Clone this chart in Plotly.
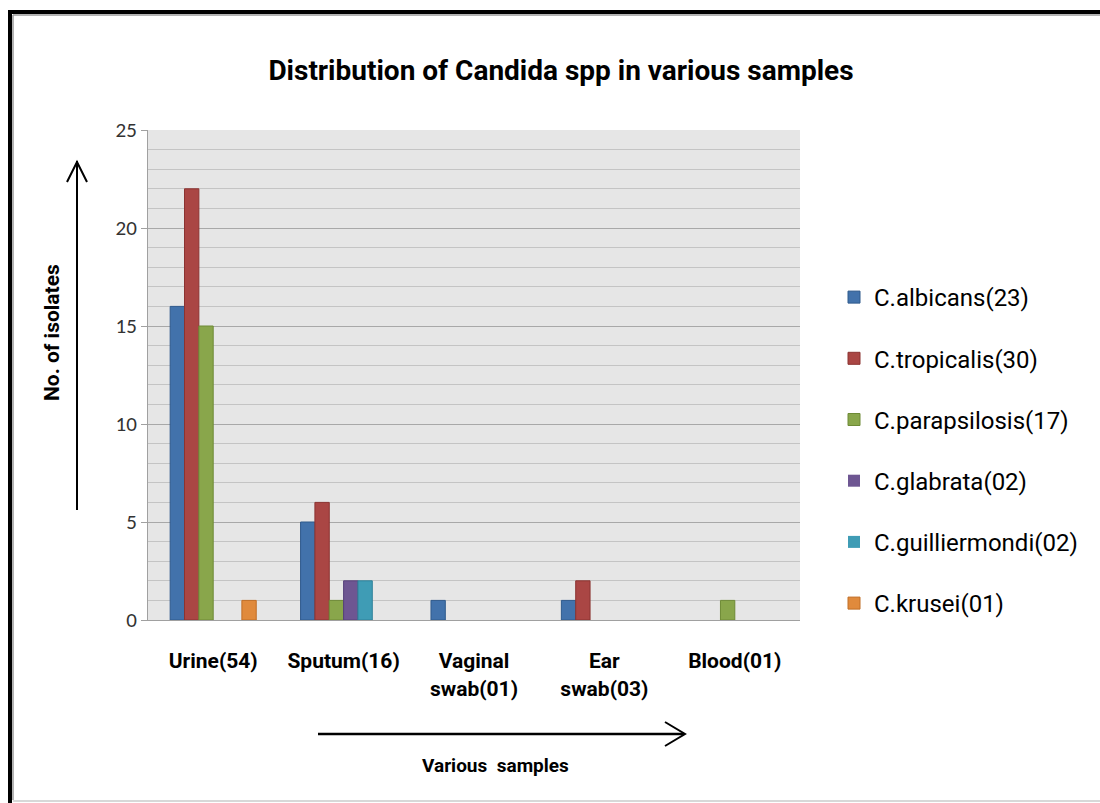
import plotly.graph_objects as go

categories = ["Urine(54)", "Sputum(16)", "Vaginal<br>swab(01)", "Ear<br>swab(03)", "Blood(01)"]
series_names = ["C.albicans(23)", "C.tropicalis(30)", "C.parapsilosis(17)",
                "C.glabrata(02)", "C.guilliermondi(02)", "C.krusei(01)"]
albicans = [16, 5, 1, 1, 0]
tropicalis = [22, 6, 0, 2, 0]
parapsilosis = [15, 1, 0, 0, 1]
glabrata = [0, 2, 0, 0, 0]
guilliermondi = [0, 2, 0, 0, 0]
krusei = [1, 0, 0, 0, 0]
series_values = [albicans, tropicalis, parapsilosis, glabrata, guilliermondi, krusei]
y_ticks = [0, 5, 10, 15, 20, 25]

fills = ["#4272AB", "#AA4644", "#89A64B", "#6E5692", "#3F9CB5", "#E08A3C"]
edges = ["#2F5A8C", "#8B3331", "#6E8A36", "#56407A", "#2E8199", "#C06E26"]

COND = "Roboto, Liberation Sans, sans-serif"

fig = go.Figure()
for name, vals, fc, ec in zip(series_names, series_values, fills, edges):
    fig.add_trace(go.Bar(x=categories, y=vals, name=name, legendgroup=name,
                         marker=dict(color=fc,
                                     line=dict(color=ec, width=[1 if v > 0 else 0 for v in vals]))))

# body margin removed by post_script: figure coords = page coords
W, H = 1100, 803
L, T = 148, 130
R = W - 800
B = H - 620
pw, ph = W - L - R, H - T - B

def px(x):
    return (x - L) / pw

def py(y):
    return (H - B - y) / ph

shapes = [
    # outer frame
    dict(type="line", xref="paper", yref="paper", x0=px(10), x1=px(10), y0=py(10), y1=py(803),
         line=dict(color="black", width=4)),
    dict(type="line", xref="paper", yref="paper", x0=px(8), x1=px(1100), y0=py(12), y1=py(12),
         line=dict(color="black", width=4)),
    dict(type="line", xref="paper", yref="paper", x0=px(13), x1=px(13), y0=py(15), y1=py(800),
         line=dict(color="#9A9A9A", width=1.5)),
    dict(type="line", xref="paper", yref="paper", x0=px(13), x1=px(1100), y0=py(15), y1=py(15),
         line=dict(color="#9A9A9A", width=1.5)),
    dict(type="line", xref="paper", yref="paper", x0=px(13), x1=px(1100), y0=py(801), y1=py(801),
         line=dict(color="#D8D8D8", width=2)),
    # y arrow
    dict(type="line", xref="paper", yref="paper", x0=px(77), x1=px(77), y0=py(510), y1=py(161),
         line=dict(color="black", width=2)),
    dict(type="path", xref="paper", yref="paper",
         path=f"M {px(67)} {py(182)} L {px(77)} {py(162)} L {px(87)} {py(182)}",
         line=dict(color="black", width=2)),
    # x arrow
    dict(type="line", xref="paper", yref="paper", x0=px(318), x1=px(684), y0=py(734), y1=py(734),
         line=dict(color="black", width=2.5)),
    dict(type="path", xref="paper", yref="paper",
         path=f"M {px(665)} {py(722)} L {px(685)} {py(734)} L {px(665)} {py(746)}",
         line=dict(color="black", width=2)),
]

annotations = [
    dict(text="<b>No. of isolates</b>", xref="paper", yref="paper", x=px(52), y=py(333),
         xanchor="center", yanchor="middle",
         textangle=-90, showarrow=False, font=dict(family=COND, size=21, color="black")),
    dict(text="<b>Various  samples</b>", xref="paper", yref="paper", x=px(495), y=py(765),
         xanchor="center", yanchor="middle",
         showarrow=False, font=dict(family=COND, size=19, color="black")),
]

fig.update_layout(
    width=W, height=H,
    margin=dict(l=L, r=R, t=T, b=B),
    paper_bgcolor="white",
    plot_bgcolor="#E6E6E6",
    title=dict(text="<b>Distribution of Candida spp in various samples</b>",
               x=561 / W, xanchor="center", y=1 - 70 / H, yanchor="middle",
               font=dict(family=COND, size=28, color="black")),
    barmode="group",
    bargap=0.34,
    bargroupgap=0,
    showlegend=True,
    legend=dict(x=px(834), y=py(275), xanchor="left", yanchor="top",
                font=dict(family=COND, size=24, color="black"),
                tracegroupgap=27, itemwidth=30, bgcolor="rgba(0,0,0,0)"),
    xaxis=dict(showgrid=False, showline=True, linecolor="#A0A0A0", linewidth=1,
               ticks="", ticklabelstandoff=22,
               tickfont=dict(family=COND, size=21, color="black", weight="bold")),
    yaxis=dict(range=[0, 25], tickvals=y_ticks, showgrid=True, gridcolor="#A8A8A8",
               gridwidth=1, showline=True, linecolor="#A0A0A0", linewidth=1,
               ticks="outside", ticklen=6, tickcolor="#A0A0A0",
               tickfont=dict(family="Carlito, Open Sans, Liberation Sans, sans-serif", size=21, color="#333333"),
               minor=dict(dtick=1, showgrid=True, gridcolor="#C4C4C4", gridwidth=1),
               zeroline=False),
    shapes=shapes,
    annotations=annotations,
)

fig.write_html("out.html",
               config={"displayModeBar": False},
               post_script="document.body.style.margin='0';document.body.style.overflow='hidden';")
